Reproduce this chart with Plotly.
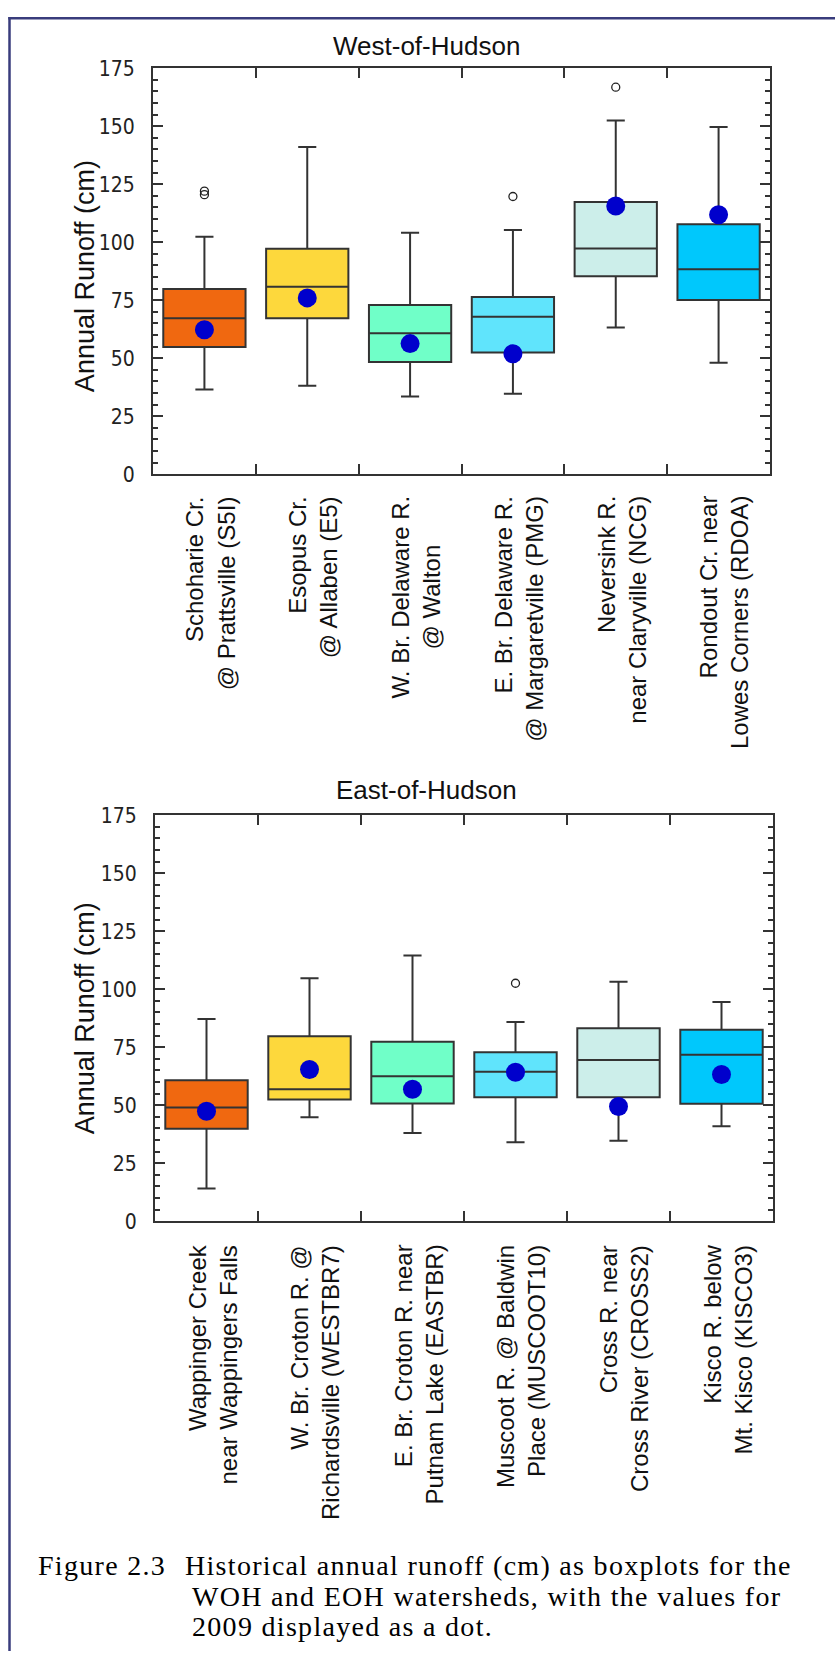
import plotly.graph_objects as go

W, H = 835, 1663

# ---- West-of-Hudson stations -------------------------------------------
woh_line1 = ["Schoharie Cr.", "Esopus Cr.", "W. Br. Delaware R.",
             "E. Br. Delaware R.", "Neversink R.", "Rondout Cr. near"]
woh_line2 = ["@ Prattsville (S5I)", "@ Allaben (E5)", "@ Walton",
             "@ Margaretville (PMG)", "near Claryville (NCG)", "Lowes Corners (RDOA)"]
woh_low = [36.5, 38.1, 33.5, 34.7, 63.2, 48.0]
woh_q1 = [54.8, 67.2, 48.4, 52.5, 85.3, 75.1]
woh_median = [67.2, 80.8, 60.8, 67.9, 97.3, 88.3]
woh_q3 = [79.8, 97.2, 72.9, 76.4, 117.3, 107.7]
woh_high = [102.4, 141.0, 104.1, 105.3, 152.5, 149.7]
woh_2009 = [62.3, 76.0, 56.3, 51.9, 115.6, 111.8]
woh_outlier_station = [0, 0, 3, 4]
woh_outlier_value = [122.0, 120.5, 119.7, 166.8]

# ---- East-of-Hudson stations -------------------------------------------
eoh_line1 = ["Wappinger Creek", "W. Br. Croton R. @", "E. Br. Croton R. near",
             "Muscoot R. @ Baldwin", "Cross R. near", "Kisco R. below"]
eoh_line2 = ["near Wappingers Falls", "Richardsville (WESTBR7)", "Putnam Lake (EASTBR)",
             "Place (MUSCOOT10)", "Cross River (CROSS2)", "Mt. Kisco (KISCO3)"]
eoh_low = [14.1, 44.8, 38.0, 34.1, 34.7, 41.0]
eoh_q1 = [39.9, 52.5, 50.8, 53.5, 53.5, 50.7]
eoh_median = [49.0, 56.9, 62.5, 64.4, 69.5, 71.8]
eoh_q3 = [60.8, 79.7, 77.4, 72.9, 83.2, 82.5]
eoh_high = [87.2, 104.7, 114.5, 85.9, 103.2, 94.5]
eoh_2009 = [47.4, 65.4, 56.9, 64.2, 49.5, 63.3]
eoh_outlier_station = [3]
eoh_outlier_value = [102.6]

y_ticks = [0, 25, 50, 75, 100, 125, 150, 175]

caption_label = "Figure 2.3"
caption_lines = ["Historical annual runoff (cm) as boxplots for the",
                 "WOH and EOH watersheds, with the values for",
                 "2009 displayed as a dot."]

# ---- styling ------------------------------------------------------------
BOX_COLORS = ["#F06810", "#FDD83C", "#70FFC8", "#60E4FC", "#CCEEEA", "#00C8FC"]
AX = "#333333"
SANS = "Liberation Sans, Arial, sans-serif"
NARROW = "Liberation Sans Narrow, Arial Narrow, DejaVu Sans Condensed, Liberation Sans, sans-serif"
SERIF = "Liberation Serif, Times New Roman, serif"
CENTERED_LABELS = {"W. Br. Delaware R."}


def px_x(p):
    return p / W


def px_y(p):
    return 1 - p / H


fig = go.Figure()


def add_panel(xa, ya, low, q1, med, q3, high, dots, out_x, out_y):
    for i in range(len(q1)):
        fig.add_trace(go.Box(
            x=[i], q1=[q1[i]], median=[med[i]], q3=[q3[i]],
            lowerfence=[low[i]], upperfence=[high[i]],
            orientation="v", boxpoints=False, width=0.8, whiskerwidth=0.22,
            fillcolor=BOX_COLORS[i], line=dict(color=AX, width=2),
            xaxis=xa, yaxis=ya, hoverinfo="skip"))
    fig.add_trace(go.Scatter(
        x=out_x, y=out_y, mode="markers", xaxis=xa, yaxis=ya,
        marker=dict(symbol="circle-open", size=8, color="#222222", line=dict(width=1.3)),
        hoverinfo="skip"))
    fig.add_trace(go.Scatter(
        x=list(range(len(dots))), y=dots, mode="markers", xaxis=xa, yaxis=ya,
        marker=dict(symbol="circle", size=19, color="#0000CC"),
        hoverinfo="skip"))


add_panel("x", "y", woh_low, woh_q1, woh_median, woh_q3, woh_high, woh_2009,
          woh_outlier_station, woh_outlier_value)
add_panel("x2", "y2", eoh_low, eoh_q1, eoh_median, eoh_q3, eoh_high, eoh_2009,
          eoh_outlier_station, eoh_outlier_value)


def xaxis_style(domain, anchor):
    return dict(domain=domain, anchor=anchor, range=[-0.5, 5.5],
                tickmode="array", tickvals=[0.5, 1.5, 2.5, 3.5, 4.5],
                showticklabels=False, ticks="inside", ticklen=10, tickwidth=2,
                tickcolor=AX, showline=True, linecolor=AX, linewidth=2,
                mirror="allticks", showgrid=False, zeroline=False, fixedrange=True)


def yaxis_style(domain, anchor):
    return dict(domain=domain, anchor=anchor, range=[0, 175],
                tickmode="array", tickvals=y_ticks,
                ticks="inside", ticklen=10, tickwidth=2, tickcolor=AX,
                minor=dict(dtick=5, tick0=0, ticks="inside", ticklen=5,
                           tickwidth=1.5, tickcolor=AX, showgrid=False),
                tickfont=dict(family=NARROW, size=21, color="#222222"),
                ticklabelstandoff=12,
                showline=True, linecolor=AX, linewidth=2, mirror="allticks",
                showgrid=False, zeroline=False, fixedrange=True)


fig.update_layout(
    width=W, height=H, margin=dict(l=0, r=0, t=0, b=0),
    paper_bgcolor="white", plot_bgcolor="white", showlegend=False,
    xaxis=xaxis_style([px_x(153), px_x(770)], "y"),
    yaxis=yaxis_style([px_y(469), px_y(57)], "x"),
    xaxis2=xaxis_style([px_x(155), px_x(773)], "y2"),
    yaxis2=yaxis_style([px_y(1227), px_y(815)], "x2"),
)

ann = []
# panel titles
for text, ypx in [("West-of-Hudson", 34), ("East-of-Hudson", 789)]:
    ann.append(dict(text=text, x=px_x(426), y=px_y(ypx), xref="paper", yref="paper",
                    xanchor="center", yanchor="middle", showarrow=False,
                    font=dict(family=SANS, size=26, color="#111111")))
# y-axis titles
for ypx in [268, 1021]:
    ann.append(dict(text="Annual Runoff (cm)", x=px_x(85), y=px_y(ypx),
                    xref="paper", yref="paper", textangle=-90,
                    xanchor="center", yanchor="middle", showarrow=False,
                    font=dict(family=SANS, size=27, color="#111111")))
# station labels under each panel
for xref, top_px, l1, l2 in [("x", 489, woh_line1, woh_line2),
                             ("x2", 1249, eoh_line1, eoh_line2)]:
    for i, (a, b) in enumerate(zip(l1, l2)):
        ann.append(dict(text=a + "<br>" + b, x=i, xref=xref, y=px_y(top_px), yref="paper",
                        textangle=-90, xanchor="center", yanchor="top",
                        align="center" if a in CENTERED_LABELS else "right",
                        xshift=6, showarrow=False,
                        font=dict(family=SANS, size=24, color="#111111")))


# caption (Times-like text, slightly letter-spaced)
def spaced(s):
    return '<span style="letter-spacing:1.3px">' + s + "</span>"


cap_font = dict(family=SERIF, size=28, color="#000000")
baselines = [1586, 1617, 1648]
ann.append(dict(text=spaced(caption_label), x=px_x(37), y=px_y(baselines[0] - 9.5),
                xref="paper", yref="paper", xanchor="left", yanchor="middle",
                showarrow=False, font=cap_font, borderpad=0))
for line, xpx, base in zip(caption_lines, [184, 191, 191], baselines):
    ann.append(dict(text=spaced(line), x=px_x(xpx), y=px_y(base - 9.5),
                    xref="paper", yref="paper", xanchor="left", yanchor="middle",
                    showarrow=False, font=cap_font, borderpad=0))
fig.update_layout(annotations=ann)

# page frame (left and top rules)
frame = dict(color="#393C7C", width=2.5)
fig.add_shape(type="line", xref="paper", yref="paper", x0=px_x(9.5), x1=px_x(9.5),
              y0=px_y(5), y1=0, line=frame)
fig.add_shape(type="line", xref="paper", yref="paper", x0=px_x(8.3), x1=1,
              y0=px_y(6.3), y1=px_y(6.3), line=frame)

fig.write_html("out.html")
